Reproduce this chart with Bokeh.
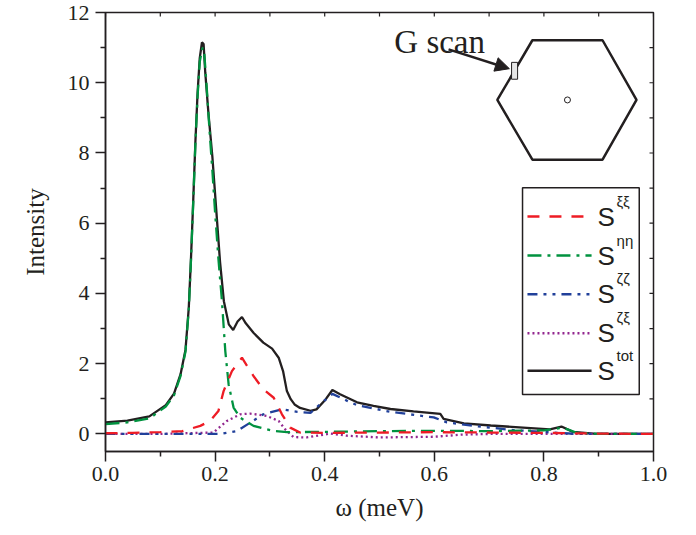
from bokeh.plotting import figure
from bokeh.models import Range1d, FixedTicker, Arrow, NormalHead, NumeralTickFormatter
from bokeh.core.properties import value
from bokeh.embed import file_html
from bokeh.resources import INLINE

# ---------------- data ----------------
x_tot = [0.0, 0.04, 0.08, 0.11, 0.125, 0.137, 0.146, 0.152, 0.156, 0.160, 0.164, 0.168, 0.172, 0.176,
         0.179, 0.182, 0.188, 0.195, 0.202, 0.209, 0.216, 0.225, 0.233, 0.241, 0.249, 0.256, 0.270,
         0.288, 0.304, 0.316, 0.324, 0.331, 0.338, 0.345, 0.355, 0.374, 0.385, 0.400, 0.414, 0.428,
         0.459, 0.489, 0.520, 0.562, 0.611, 0.617, 0.654, 0.703, 0.762, 0.811, 0.832, 0.853, 0.896, 1.0]
y_tot = [0.33, 0.38, 0.50, 0.82, 1.15, 1.70, 2.40, 3.60, 5.00, 6.60, 8.30, 9.70, 10.70, 11.15,
         11.10, 10.30, 9.10, 7.90, 6.40, 4.90, 3.78, 3.12, 2.96, 3.20, 3.33, 3.15, 2.88,
         2.60, 2.43, 2.17, 1.79, 1.22, 0.99, 0.84, 0.74, 0.66, 0.70, 0.95, 1.25, 1.13,
         0.90, 0.80, 0.71, 0.64, 0.57, 0.43, 0.30, 0.24, 0.18, 0.13, 0.21, 0.06, 0.0, 0.0]

x_xixi = [0.0, 0.05, 0.10, 0.14, 0.173, 0.191, 0.206, 0.2155, 0.2307, 0.249, 0.270, 0.288, 0.307,
          0.322, 0.337, 0.355, 0.40, 0.50, 0.60, 0.70, 0.80, 0.90, 1.0]
y_xixi = [0.02, 0.03, 0.05, 0.08, 0.23, 0.37, 0.65, 1.22, 1.79, 2.17, 1.65, 1.27, 1.03,
          0.56, 0.18, 0.04, 0.03, 0.04, 0.05, 0.04, 0.03, 0.01, 0.0]

x_etaeta = [0.0, 0.04, 0.08, 0.11, 0.125, 0.137, 0.146, 0.152, 0.156, 0.160, 0.164, 0.168, 0.172, 0.177,
            0.180, 0.185, 0.190, 0.195, 0.200, 0.206, 0.2125, 0.2186, 0.2247, 0.2337, 0.246, 0.270,
            0.307, 0.331, 0.40, 0.50, 0.60, 0.70, 0.80, 0.835, 0.86, 0.90, 1.0]
y_etaeta = [0.28, 0.33, 0.44, 0.78, 1.10, 1.65, 2.35, 3.55, 4.95, 6.55, 8.25, 9.60, 10.60, 11.00,
            10.90, 9.80, 8.60, 7.50, 6.30, 5.00, 3.78, 2.36, 1.41, 0.75, 0.46, 0.23,
            0.085, 0.05, 0.06, 0.08, 0.09, 0.08, 0.10, 0.18, 0.03, 0.0, 0.0]

x_zetazeta = [0.0, 0.15, 0.209, 0.24, 0.264, 0.288, 0.322, 0.35, 0.374, 0.392, 0.414, 0.44, 0.459,
              0.52, 0.599, 0.623, 0.672, 0.744, 0.817, 0.86, 1.0]
y_zetazeta = [0.0, 0.0, 0.0, 0.085, 0.32, 0.56, 0.70, 0.63, 0.60, 0.85, 1.14, 0.95, 0.82,
              0.63, 0.47, 0.33, 0.23, 0.11, 0.04, 0.0, 0.0]

x_zetaxi = [0.0, 0.10, 0.197, 0.2216, 0.246, 0.264, 0.2945, 0.316, 0.328, 0.343, 0.367, 0.41, 0.44,
            0.50, 0.60, 0.65, 0.70, 1.0]
y_zetaxi = [0.0, 0.0, 0.04, 0.37, 0.56, 0.58, 0.51, 0.37, 0.13, -0.09, -0.10, 0.01, -0.05,
            -0.10, -0.08, -0.02, 0.0, 0.0]

x_ticks = [0.0, 0.2, 0.4, 0.6, 0.8, 1.0]
x_minor = [0.1, 0.3, 0.5, 0.7, 0.9]
y_ticks = [0, 2, 4, 6, 8, 10, 12]
y_minor = [1, 3, 5, 7, 9, 11]

legend_labels = ["\u03be\u03be", "\u03b7\u03b7", "\u03b6\u03b6", "\u03b6\u03be", "tot"]

# ---------------- styles / layout ----------------
RED, GREEN, BLUE, PURPLE, BLACK = "#ee1c25", "#00923f", "#21409a", "#92278f", "#231f20"
series = [
    (x_xixi, y_xixi, RED, "12 10"),
    (x_etaeta, y_etaeta, GREEN, "14 6 3 6"),
    (x_zetazeta, y_zetazeta, BLUE, "10 6 3 6 3 6"),
    (x_zetaxi, y_zetaxi, PURPLE, "2 3"),
    (x_tot, y_tot, BLACK, "solid"),
]
SERIF = "Liberation Serif"
SANS = "Liberation Sans"

W, H = 680, 526
BL, BR, BT, BB = 105, 27, 12, 75
X0, X1, Y0, Y1 = 0.0, 1.0, -0.5, 12.0

p = figure(width=W, height=H, x_range=Range1d(X0, X1), y_range=Range1d(Y0, Y1),
           output_backend="svg", toolbar_location=None,
           min_border_left=BL, min_border_right=BR, min_border_top=BT, min_border_bottom=BB)
p.xgrid.visible = False
p.ygrid.visible = False
p.outline_line_color = BLACK
p.outline_line_width = 1.5
p.background_fill_color = "white"
p.border_fill_color = "white"

xa = p.xaxis[0]
xa.ticker = FixedTicker(ticks=x_ticks, minor_ticks=x_minor)
xa.formatter = NumeralTickFormatter(format="0.0")
xa.axis_label = "\u03c9 (meV)"
ya = p.yaxis[0]
ya.ticker = FixedTicker(ticks=y_ticks, minor_ticks=y_minor)
ya.axis_label = "Intensity"
for ax in (xa, ya):
    ax.axis_line_color = BLACK
    ax.axis_line_width = 1.5
    ax.major_tick_line_color = BLACK
    ax.minor_tick_line_color = BLACK
    ax.major_tick_line_width = 1.5
    ax.minor_tick_line_width = 1.5
    ax.major_tick_out = 10
    ax.major_tick_in = 0
    ax.minor_tick_out = 5
    ax.minor_tick_in = 0
    ax.major_label_text_font = SERIF
    ax.major_label_text_font_size = "22px"
    ax.major_label_text_line_height = 1.0
    ax.major_label_text_color = BLACK
    ax.axis_label_text_font = SERIF
    ax.axis_label_text_font_size = "25px"
    ax.axis_label_text_font_style = "normal"
    ax.axis_label_text_color = BLACK
xa.major_label_standoff = 5
xa.axis_label_standoff = 10
ya.major_label_standoff = 6
ya.axis_label_standoff = 16

# small inward ticks on the top and right frame edges (mirror ticks)
fw = W - BL - BR
fh = H - BT - BB
tick_dy = 4 * (Y1 - Y0) / fh
tick_dx = 4 * (X1 - X0) / fw
top_x = sorted(x_ticks + x_minor)
right_y = sorted(y_ticks + y_minor)
p.segment(x0=top_x, x1=top_x, y0=[Y1] * len(top_x), y1=[Y1 - tick_dy] * len(top_x),
          line_color=BLACK, line_width=1.2)
p.segment(x0=[X1] * len(right_y), x1=[X1 - tick_dx] * len(right_y), y0=right_y, y1=right_y,
          line_color=BLACK, line_width=1.2)

# curves
for xs, ys, col, dash in series[::-1]:
    p.line(xs, ys, line_color=col, line_width=2.3, line_dash=dash)

# legend (drawn by hand so that the superscripts can be shown)
p.quad(left=0.761, right=0.974, top=7.01, bottom=1.12, fill_color="white",
       line_color=BLACK, line_width=1.5)
leg_y = [6.19, 5.08, 3.98, 2.87, 1.80]
for (xs, ys, col, dash), ly, lab in zip(series, leg_y, legend_labels):
    p.segment(x0=0.770, x1=0.887, y0=ly, y1=ly, line_color=col, line_width=2.5, line_dash=dash)
    p.text(x=[0.898], y=[ly], text=["S"], text_font=value(SANS), text_font_size="26px",
           text_baseline="middle", text_align="left", text_color=BLACK)
    p.text(x=[0.898], y=[ly], text=[lab], x_offset=19, y_offset=-7,
           text_font=value(SANS), text_font_size="15px",
           text_baseline="bottom", text_align="left", text_color=BLACK)

# inset: hexagonal zone with the scan position
hex_x = [0.779, 0.907, 0.969, 0.907, 0.779, 0.715]
hex_y = [11.21, 11.21, 9.51, 7.81, 7.81, 9.51]
p.patch(hex_x, hex_y, fill_color=None, line_color=BLACK, line_width=2.5)
p.scatter([0.843], [9.51], marker="circle", size=6, fill_color="white", line_color=BLACK, line_width=1)
p.quad(left=0.741, right=0.752, top=10.58, bottom=10.10, fill_color="#e6e6e6",
       line_color=BLACK, line_width=1)
p.add_layout(Arrow(end=NormalHead(size=14, fill_color=BLACK, line_color=BLACK, line_width=1),
                   x_start=0.626, y_start=10.95, x_end=0.737, y_end=10.40,
                   line_color=BLACK, line_width=2.5))
p.text(x=[0.527], y=[11.15], text=["G scan"], text_font=value(SERIF), text_font_size="33px",
       text_baseline="alphabetic", text_align="left", text_color=BLACK)

open("out.html", "w").write(file_html(p, INLINE))
